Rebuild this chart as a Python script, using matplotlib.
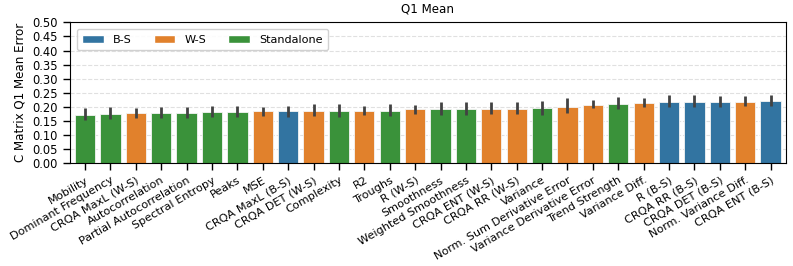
import matplotlib
matplotlib.use("Agg")
import matplotlib.pyplot as plt
from matplotlib.patches import Patch
import numpy as np

features = [
    "Mobility", "Dominant Frequency", "CRQA MaxL (W-S)", "Autocorrelation",
    "Partial Autocorrelation", "Spectral Entropy", "Peaks", "MSE",
    "CRQA MaxL (B-S)", "CRQA DET (W-S)", "Complexity", "R2", "Troughs",
    "R (W-S)", "Smoothness", "Weighted Smoothness", "CRQA ENT (W-S)",
    "CRQA RR (W-S)", "Variance", "Norm. Sum Derivative Error",
    "Variance Derivative Error", "Trend Strength", "Variance Diff.",
    "R (B-S)", "CRQA RR (B-S)", "CRQA DET (B-S)", "Norm. Variance Diff.",
    "CRQA ENT (B-S)",
]
groups = [
    "Standalone", "Standalone", "W-S", "Standalone", "Standalone", "Standalone",
    "Standalone", "W-S", "B-S", "W-S", "Standalone", "W-S", "Standalone",
    "W-S", "Standalone", "Standalone", "W-S", "W-S", "Standalone", "W-S",
    "W-S", "Standalone", "W-S", "B-S", "B-S", "B-S", "W-S", "B-S",
]
means = [0.172, 0.174, 0.177, 0.178, 0.178, 0.181, 0.182, 0.184, 0.184, 0.185,
         0.185, 0.185, 0.186, 0.191, 0.193, 0.193, 0.194, 0.194, 0.196, 0.200,
         0.207, 0.211, 0.214, 0.218, 0.218, 0.218, 0.219, 0.222]
ci_low = [0.154, 0.156, 0.160, 0.160, 0.160, 0.164, 0.165, 0.169, 0.166, 0.167,
          0.166, 0.172, 0.169, 0.175, 0.172, 0.172, 0.175, 0.175, 0.173, 0.177,
          0.196, 0.192, 0.199, 0.198, 0.199, 0.198, 0.203, 0.203]
ci_high = [0.196, 0.199, 0.197, 0.200, 0.200, 0.203, 0.203, 0.201, 0.205, 0.209,
           0.210, 0.205, 0.210, 0.207, 0.219, 0.219, 0.218, 0.218, 0.222, 0.230,
           0.224, 0.235, 0.233, 0.241, 0.241, 0.238, 0.238, 0.242]

palette = {"B-S": "#3274a1", "W-S": "#e1812c", "Standalone": "#3a923a"}
legend_order = ["B-S", "W-S", "Standalone"]

plt.rcParams["font.family"] = "DejaVu Sans"
plt.rcParams["font.size"] = 8.6
plt.rcParams["xtick.labelsize"] = 8.1
plt.rcParams["ytick.labelsize"] = 8.3

fig, ax = plt.subplots(figsize=(7.93, 2.66), dpi=100)
x = np.arange(len(features))
m = np.array(means)
yerr = [m - np.array(ci_low), np.array(ci_high) - m]
ax.bar(x, m, width=0.8, color=[palette[g] for g in groups],
       edgecolor="#f4f4f4", linewidth=0.6, zorder=2)
ax.errorbar(x, m, yerr=yerr, fmt="none", ecolor="#424242", elinewidth=2.0,
            capsize=0, zorder=3)

ax.set_xlim(-0.6, len(features) - 0.4)
ax.set_ylim(0, 0.5)
ax.set_yticks(np.arange(0, 0.501, 0.05))
ax.yaxis.set_major_formatter(matplotlib.ticker.FormatStrFormatter("%.2f"))
ax.set_xticks(x)
ax.set_xticklabels(features, rotation=30, ha="right", rotation_mode="anchor")
ax.tick_params(axis="both", length=5, width=1)
ax.grid(axis="y", linestyle="--", color="#e0e0e0", linewidth=0.8, zorder=0)
ax.set_axisbelow(True)
ax.set_ylabel("C Matrix Q1 Mean Error")
ax.set_title("Q1 Mean", fontsize=8.6, pad=7)

handles = [Patch(facecolor=palette[g], edgecolor="white", label=g) for g in legend_order]
ax.legend(handles=handles, loc="upper left", ncol=3, handlelength=1.9,
          handletextpad=0.8, columnspacing=2.0, framealpha=0.9,
          borderaxespad=0.6, borderpad=0.5, fontsize=8.1)

fig.subplots_adjust(left=0.088, right=0.991, top=0.916, bottom=0.386)
fig.savefig("out.png", dpi=100)
